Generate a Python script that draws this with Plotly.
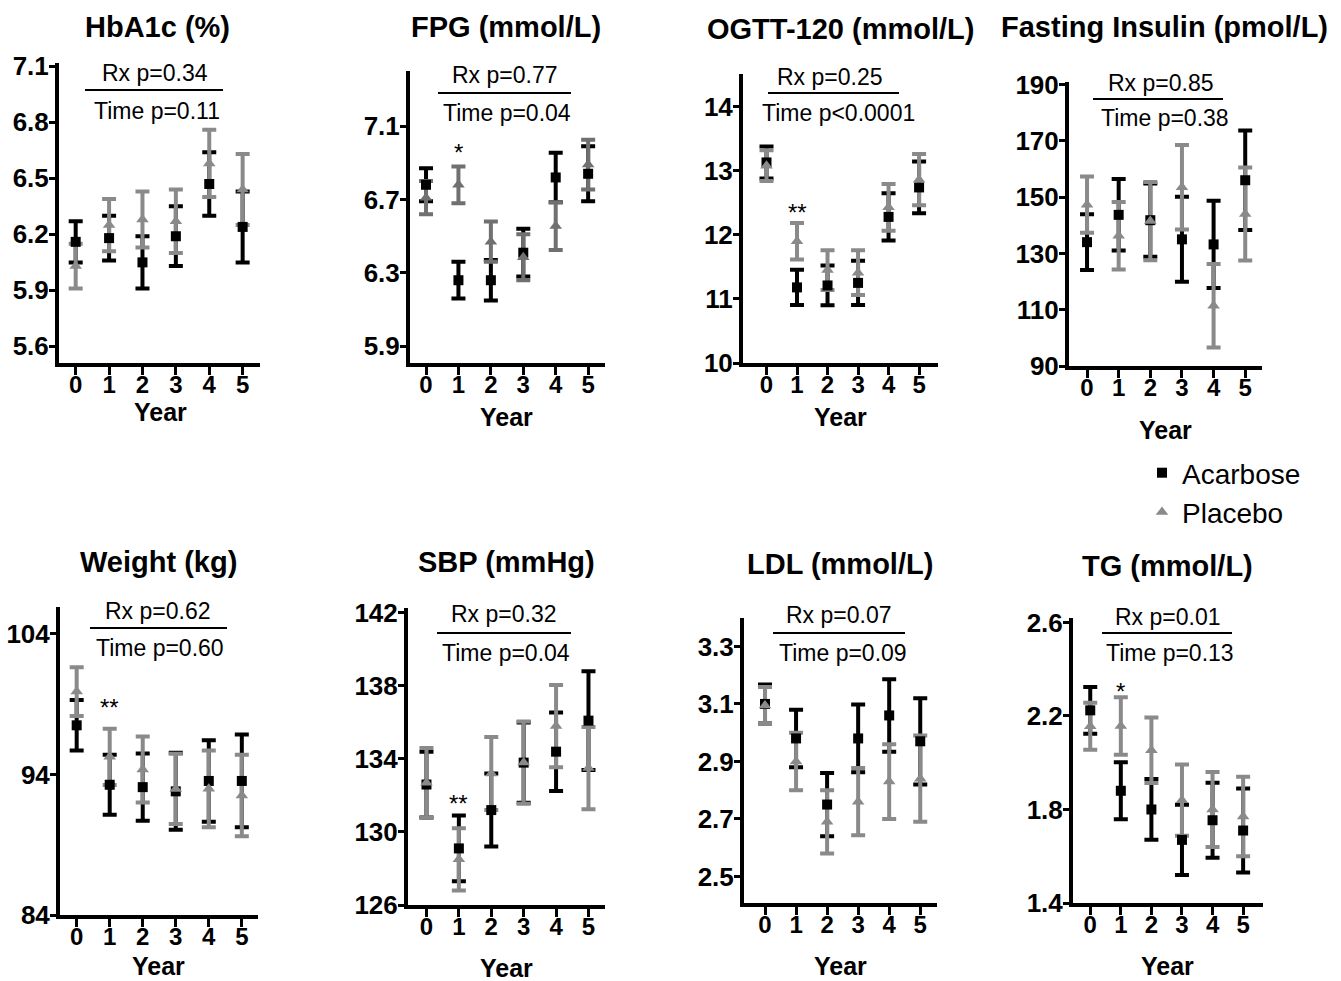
import plotly.graph_objects as go

# ---------------- data ----------------
years = [0, 1, 2, 3, 4, 5]

hba1c_aca = [6.16, 6.18, 6.05, 6.19, 6.47, 6.24]
hba1c_aca_err = [0.11, 0.12, 0.14, 0.16, 0.17, 0.19]
hba1c_pla = [6.03, 6.25, 6.28, 6.27, 6.58, 6.44]
hba1c_pla_err = [0.12, 0.14, 0.15, 0.17, 0.18, 0.19]

fpg_aca = [6.78, 6.26, 6.26, 6.41, 6.82, 6.84]
fpg_aca_err = [0.09, 0.10, 0.11, 0.13, 0.135, 0.15]
fpg_pla = [6.71, 6.78, 6.47, 6.385, 6.555, 6.89]
fpg_pla_err = [0.09, 0.10, 0.11, 0.125, 0.13, 0.135]

ogtt_aca = [13.13, 11.18, 11.21, 11.25, 12.28, 12.74]
ogtt_aca_err = [0.25, 0.275, 0.31, 0.345, 0.37, 0.405]
ogtt_pla = [13.08, 11.90, 11.45, 11.41, 12.43, 12.86]
ogtt_pla_err = [0.24, 0.285, 0.31, 0.35, 0.365, 0.40]

ins_aca = [134.0, 143.7, 141.8, 135.0, 133.2, 156.0]
ins_aca_err = [9.9, 12.7, 13.0, 15.1, 15.5, 17.7]
ins_pla = [147.3, 136.3, 141.5, 153.5, 111.4, 144.0]
ins_pla_err = [10.0, 12.0, 13.9, 15.0, 14.8, 16.5]

wt_aca = [97.5, 93.27, 93.1, 92.8, 93.54, 93.54]
wt_aca_err = [1.8, 2.13, 2.4, 2.74, 2.9, 3.3]
wt_pla = [99.9, 95.26, 94.36, 92.97, 92.98, 92.5]
wt_pla_err = [1.73, 2.0, 2.35, 2.5, 2.73, 2.9]

sbp_aca = [132.6, 129.1, 131.2, 133.8, 134.4, 136.1]
sbp_aca_err = [1.8, 1.8, 2.0, 2.2, 2.15, 2.7]
sbp_pla = [132.7, 128.5, 133.2, 133.8, 135.8, 133.5]
sbp_pla_err = [1.9, 1.7, 2.0, 2.25, 2.25, 2.25]

ldl_aca = [3.10, 2.98, 2.75, 2.98, 3.06, 2.97]
ldl_aca_err = [0.068, 0.10, 0.11, 0.118, 0.126, 0.15]
ldl_pla = [3.095, 2.90, 2.69, 2.76, 2.83, 2.84]
ldl_pla_err = [0.064, 0.10, 0.11, 0.117, 0.13, 0.15]

tg_aca = [2.224, 1.88, 1.80, 1.67, 1.754, 1.71]
tg_aca_err = [0.10, 0.122, 0.13, 0.15, 0.16, 0.18]
tg_pla = [2.156, 2.157, 2.053, 1.84, 1.80, 1.77]
tg_pla_err = [0.10, 0.123, 0.14, 0.152, 0.16, 0.17]

titles = ["HbA1c (%)", "FPG (mmol/L)", "OGTT-120 (mmol/L)", "Fasting Insulin (pmol/L)",
          "Weight (kg)", "SBP (mmHg)", "LDL (mmol/L)", "TG (mmol/L)"]
rx_p = ["Rx p=0.34", "Rx p=0.77", "Rx p=0.25", "Rx p=0.85",
        "Rx p=0.62", "Rx p=0.32", "Rx p=0.07", "Rx p=0.01"]
time_p = ["Time p=0.11", "Time p=0.04", "Time p<0.0001", "Time p=0.38",
          "Time p=0.60", "Time p=0.04", "Time p=0.09", "Time p=0.13"]
stars = [None, "*", "**", None, "**", "**", None, "*"]

yticks = [
    [5.6, 5.9, 6.2, 6.5, 6.8, 7.1],
    [5.9, 6.3, 6.7, 7.1],
    [10, 11, 12, 13, 14],
    [90, 110, 130, 150, 170, 190],
    [84, 94, 104],
    [126, 130, 134, 138, 142],
    [2.5, 2.7, 2.9, 3.1, 3.3],
    [1.4, 1.8, 2.2, 2.6],
]
ytick_text = [
    ["5.6", "5.9", "6.2", "6.5", "6.8", "7.1"],
    ["5.9", "6.3", "6.7", "7.1"],
    ["10", "11", "12", "13", "14"],
    ["90", "110", "130", "150", "170", "190"],
    ["84", "94", "104"],
    ["126", "130", "134", "138", "142"],
    ["2.5", "2.7", "2.9", "3.1", "3.3"],
    ["1.4", "1.8", "2.2", "2.6"],
]

series = [
    (hba1c_aca, hba1c_aca_err, hba1c_pla, hba1c_pla_err),
    (fpg_aca, fpg_aca_err, fpg_pla, fpg_pla_err),
    (ogtt_aca, ogtt_aca_err, ogtt_pla, ogtt_pla_err),
    (ins_aca, ins_aca_err, ins_pla, ins_pla_err),
    (wt_aca, wt_aca_err, wt_pla, wt_pla_err),
    (sbp_aca, sbp_aca_err, sbp_pla, sbp_pla_err),
    (ldl_aca, ldl_aca_err, ldl_pla, ldl_pla_err),
    (tg_aca, tg_aca_err, tg_pla, tg_pla_err),
]

# ---------------- layout geometry (pixels) ----------------
W, H = 1341, 981
# [x_left, x_right, y_top, y_bottom] of each plot area
boxes = [
    [59, 260, 63, 363],
    [410, 605, 71, 363],
    [743, 938, 74, 363],
    [1069, 1262, 82, 366],
    [60, 258, 607, 915],
    [408, 605, 608, 905],
    [744, 937, 618, 903],
    [1073, 1263, 618, 903],
]
xranges = [[-0.5, 5.52], [-0.494, 5.52], [-0.77, 5.62], [-0.57, 5.53],
           [-0.505, 5.49], [-0.57, 5.51], [-0.677, 5.54], [-0.564, 5.65]]
yranges = [[5.511, 7.118], [5.809, 7.40], [10, 14.51], [90, 190.9],
           [84, 105.92], [126, 142.27], [2.4075, 3.399], [1.4, 2.619]]
title_pos = [(157, 27), (506, 27), (840, 29), (1164, 27),
             (158, 562), (506, 562), (840, 564), (1167, 566)]
year_pos = [(160, 412), (506, 417), (840, 417), (1165, 430),
            (158, 966), (506, 968), (840, 966), (1167, 966)]
rx_pos = [(155, 73), (505, 75), (830, 77), (1161, 83),
          (158, 611), (504, 614), (839, 615), (1168, 617)]
line_pos = [(85, 223, 90), (438, 571, 93), (768, 899, 93), (1093, 1223, 99),
            (90, 227, 628), (437, 571, 633), (773, 905, 633), (1102, 1232, 633)]
time_pos = [(157, 111), (507, 113), (838, 113), (1165, 118),
            (160, 648), (506, 653), (843, 653), (1170, 653)]
star_py = [None, 153, 212, None, 707, 803, None, 691]

FONT = "Arial, 'Liberation Sans', sans-serif"
BLACK = "#000000"
GRAY = "#8a8a8a"
GRAY_DARK = "#707070"


def px(x):
    return x / W


def py(y):
    return 1 - y / H


fig = go.Figure()
annotations = []
shapes = []

for i in range(8):
    k = i + 1
    xa = "x" if k == 1 else f"x{k}"
    ya = "y" if k == 1 else f"y{k}"
    aca, aca_err, pla, pla_err = series[i]
    gcol = GRAY_DARK if i == 1 else GRAY
    show = (i == 0)
    # error bars (black then gray), then markers on top
    fig.add_trace(go.Scatter(x=years, y=aca, mode="markers", xaxis=xa, yaxis=ya,
                             marker=dict(size=1, color="rgba(0,0,0,0)"),
                             error_y=dict(type="data", array=aca_err, thickness=4,
                                          width=7, color=BLACK),
                             showlegend=False, hoverinfo="skip"))
    fig.add_trace(go.Scatter(x=years, y=pla, mode="markers", xaxis=xa, yaxis=ya,
                             marker=dict(size=1, color="rgba(0,0,0,0)"),
                             error_y=dict(type="data", array=pla_err, thickness=4,
                                          width=7, color=gcol),
                             showlegend=False, hoverinfo="skip"))
    fig.add_trace(go.Scatter(x=years, y=aca, mode="markers", xaxis=xa, yaxis=ya,
                             marker=dict(symbol="square", size=10, color=BLACK),
                             name="Acarbose", showlegend=show, legendgroup="a"))
    fig.add_trace(go.Scatter(x=years, y=pla, mode="markers", xaxis=xa, yaxis=ya,
                             marker=dict(symbol="triangle-up", size=11, color=gcol),
                             name="Placebo", showlegend=show, legendgroup="p"))

    x0, x1, yt, yb = boxes[i]
    xkey = "xaxis" if k == 1 else f"xaxis{k}"
    ykey = "yaxis" if k == 1 else f"yaxis{k}"
    fig.update_layout(**{
        xkey: dict(domain=[px(x0), px(x1)], range=xranges[i], anchor=ya,
                   tickvals=years, ticktext=[str(v) for v in years],
                   showline=True, linewidth=4, linecolor=BLACK, mirror=False,
                   ticks="outside", ticklen=8, tickwidth=3, tickcolor=BLACK,
                   showgrid=False, zeroline=False, fixedrange=True, automargin=False,
                   ticklabelstandoff=-11,
                   tickfont=dict(family=FONT, size=24, color=BLACK, weight="bold")),
        ykey: dict(domain=[py(yb), py(yt)], range=yranges[i], anchor=xa,
                   tickvals=yticks[i], ticktext=ytick_text[i],
                   showline=True, linewidth=4, linecolor=BLACK, mirror=False,
                   ticks="outside", ticklen=6, tickwidth=3, tickcolor=BLACK,
                   showgrid=False, zeroline=False, fixedrange=True, automargin=False,
                   ticklabelstandoff=-5,
                   tickfont=dict(family=FONT, size=26, color=BLACK, weight="bold")),
    })

    tx, ty = title_pos[i]
    annotations.append(dict(text=titles[i], x=px(tx), y=py(ty), xref="paper", yref="paper",
                            xanchor="center", yanchor="middle", showarrow=False,
                            font=dict(family=FONT, size=29, color=BLACK, weight="bold")))
    yx, yy = year_pos[i]
    annotations.append(dict(text="Year", x=px(yx), y=py(yy), xref="paper", yref="paper",
                            xanchor="center", yanchor="middle", showarrow=False,
                            font=dict(family=FONT, size=25, color=BLACK, weight="bold")))
    rx, ry = rx_pos[i]
    annotations.append(dict(text=rx_p[i], x=px(rx), y=py(ry), xref="paper", yref="paper",
                            xanchor="center", yanchor="middle", showarrow=False,
                            font=dict(family=FONT, size=23, color=BLACK)))
    tpx, tpy = time_pos[i]
    annotations.append(dict(text=time_p[i], x=px(tpx), y=py(tpy), xref="paper", yref="paper",
                            xanchor="center", yanchor="middle", showarrow=False,
                            font=dict(family=FONT, size=23, color=BLACK)))
    lx0, lx1, ly = line_pos[i]
    shapes.append(dict(type="line", xref="paper", yref="paper", x0=px(lx0), x1=px(lx1),
                       y0=py(ly), y1=py(ly), line=dict(color=BLACK, width=2.2)))
    if stars[i]:
        annotations.append(dict(text=stars[i], x=years[1], y=py(star_py[i]), xref=xa,
                                yref="paper", xanchor="center", yanchor="middle",
                                showarrow=False,
                                font=dict(family=FONT, size=24, color=BLACK)))

fig.update_layout(
    width=W, height=H, margin=dict(l=0, r=0, t=0, b=0, autoexpand=False),
    paper_bgcolor="white", plot_bgcolor="white",
    annotations=annotations, shapes=shapes,
    showlegend=True,
    legend=dict(x=px(1142), y=py(448), xanchor="left", yanchor="top",
                font=dict(family=FONT, size=28, color=BLACK),
                bgcolor="rgba(0,0,0,0)", tracegroupgap=0, itemsizing="trace"),
)

fig.write_html("out.html")
